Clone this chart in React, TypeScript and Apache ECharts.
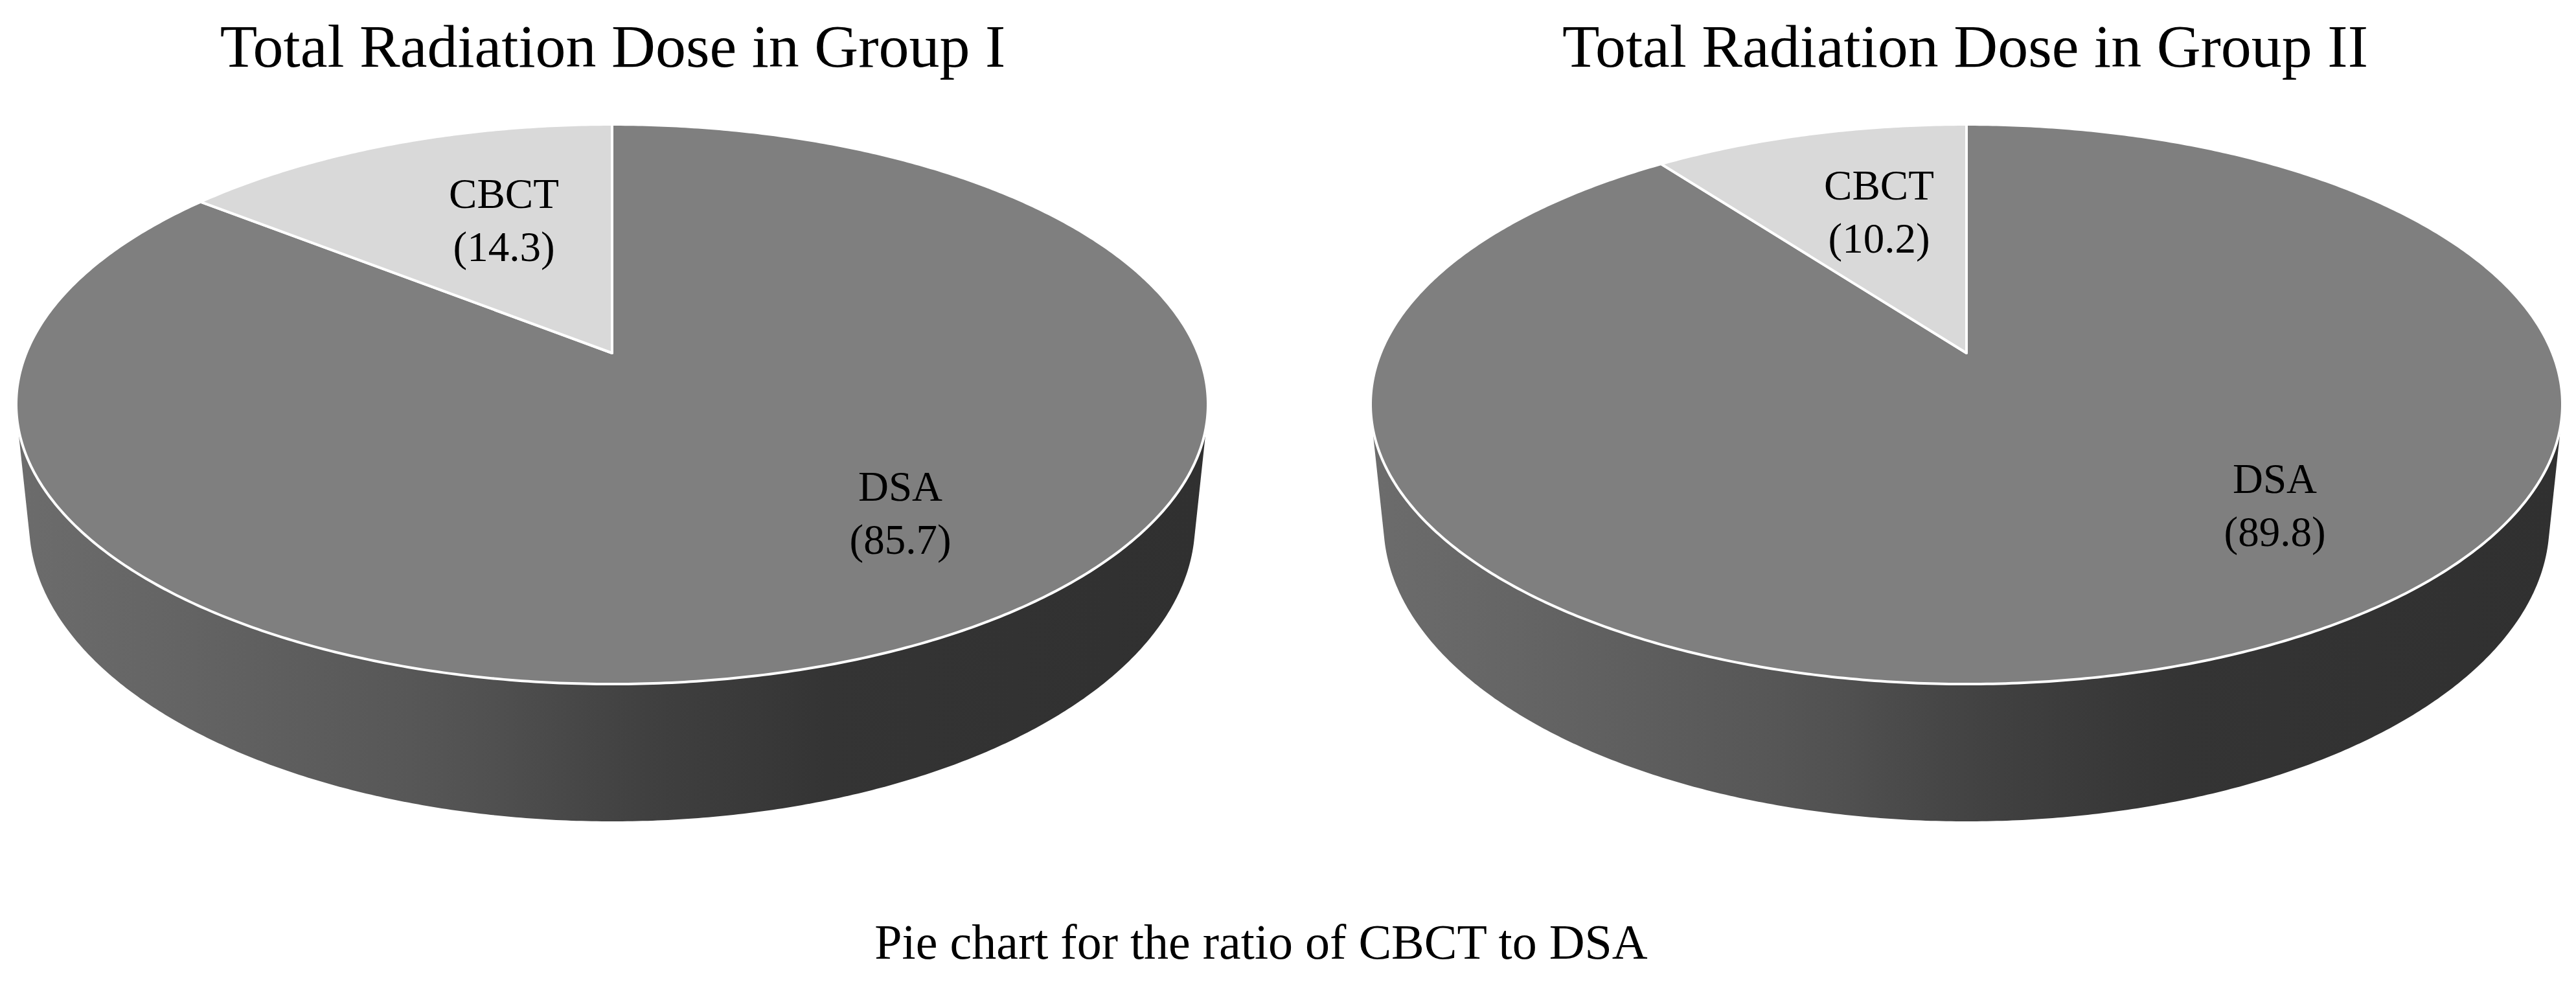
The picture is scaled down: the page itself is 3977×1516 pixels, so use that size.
import React, { useEffect, useRef } from "react";
import * as echarts from "echarts";

const FONT = "Liberation Serif";
const categories = ["DSA", "CBCT"];
const group1Values = [85.7, 14.3];
const group2Values = [89.8, 10.2];
const sliceColors = ["#7f7f7f", "#d9d9d9"];
const chartTitles = ["Total Radiation Dose in Group I", "Total Radiation Dose in Group II"];
const caption = "Pie chart for the ratio of CBCT to DSA";

const WALL_STOPS: [number, string][] = [
  [0, "#6c6c6c"], [0.12, "#656565"], [0.33, "#575757"], [0.40, "#505050"],
  [0.47, "#474747"], [0.53, "#404040"], [0.68, "#343434"], [1, "#303030"],
];

const GEOM = { a: 920, b: 432, cy: 624, tilt: 0.183, apexShift: 79, a2: 900, b2: 460, cy2: 808 };

// perspective projection of a point on the unit disc to the screen
function project(cx: number, X: number, Y: number): [number, number] {
  const { a, b, cy, tilt, apexShift } = GEOM;
  const d = 1 - tilt * Y;
  const A = a * Math.sqrt(1 - tilt * tilt);
  return [cx + (A * X) / d, cy + (b * Y - apexShift) / d];
}

function slicePoints(cx: number, startFrac: number, endFrac: number) {
  const pts: [number, number][] = [project(cx, 0, 0)];
  const n = Math.max(8, Math.ceil((endFrac - startFrac) * 720));
  for (let i = 0; i <= n; i++) {
    const t = (startFrac + ((endFrac - startFrac) * i) / n) * 2 * Math.PI;
    pts.push(project(cx, Math.sin(t), -Math.cos(t)));
  }
  return pts;
}

function wallPoints(cx: number) {
  const { a, b, cy, a2, b2, cy2 } = GEOM;
  const raw: [number, number][] = [];
  for (let i = 0; i < 720; i++) {
    const t = (i / 720) * 2 * Math.PI;
    const p1: [number, number] = [cx + a * Math.cos(t), cy + b * Math.sin(t)];
    const p2: [number, number] = [cx + a2 * Math.cos(t), cy2 + b2 * Math.sin(t)];
    if (p1[1] >= cy) raw.push(p1);
    if (p2[1] >= cy2) raw.push(p2);
  }
  raw.sort((p, q) => p[0] - q[0] || p[1] - q[1]);
  // lower convex hull (screen y grows downward)
  const hull: [number, number][] = [];
  for (const p of raw) {
    while (hull.length >= 2) {
      const o = hull[hull.length - 2];
      const m = hull[hull.length - 1];
      const cross = (m[0] - o[0]) * (p[1] - o[1]) - (m[1] - o[1]) * (p[0] - o[0]);
      if (cross >= 0) hull.pop();
      else break;
    }
    hull.push(p);
  }
  return hull;
}

function pieSeries(cx: number, values: number[]) {
  const total = values.reduce((s, v) => s + v, 0);
  return {
    type: "custom",
    coordinateSystem: "none",
    silent: true,
    data: values.map((v, i) => ({ name: categories[i], value: [v] })),
    renderItem: (params: any, api: any) => {
      const i = params.dataIndex;
      const value = api.value(0);
      let before = 0;
      for (let k = 0; k < i; k++) before += values[k];
      const children: any[] = [];
      if (i === 0) {
        children.push({
          type: "polygon",
          shape: { points: wallPoints(cx) },
          style: {
            fill: new echarts.graphic.LinearGradient(
              cx - GEOM.a, 0, cx + GEOM.a, 0,
              WALL_STOPS.map(([offset, color]) => ({ offset, color })), true
            ),
          },
        });
      }
      children.push({
        type: "polygon",
        shape: { points: slicePoints(cx, before / total, (before + value) / total) },
        style: { fill: sliceColors[i], stroke: "#ffffff", lineWidth: 4, lineJoin: "round" },
      });
      return { type: "group", children };
    },
    z: 2,
  };
}

function labelElements(values: number[], labelPos: [number, number][]) {
  return labelPos.map((p, i) => ({
    type: "text",
    x: p[0],
    y: p[1],
    z: 10,
    style: {
      text: `${categories[i]}\n(${values[i].toFixed(1)})`,
      fontFamily: FONT,
      fontSize: 65,
      lineHeight: 82,
      fill: "#000000",
      align: "center",
      verticalAlign: "middle",
    },
  }));
}

export default function App() {
  const ref = useRef<HTMLDivElement>(null);
  useEffect(() => {
    document.body.style.margin = "0";
    const chart = echarts.init(ref.current!, undefined, { renderer: "svg" });
    const titleStyle = { fontFamily: FONT, fontSize: 94, fontWeight: "normal" as const, color: "#000000" };
    chart.setOption({
      animation: false,
      backgroundColor: "#ffffff",
      title: [
        { text: chartTitles[0], left: 946, top: 24, textAlign: "center", padding: 0, textStyle: titleStyle },
        { text: chartTitles[1], left: 3034, top: 24, textAlign: "center", padding: 0, textStyle: titleStyle },
        { text: caption, left: 1947, top: 1416, textAlign: "center", padding: 0,
          textStyle: { ...titleStyle, fontSize: 76 } },
      ],
      series: [pieSeries(945, group1Values), pieSeries(3036, group2Values)],
      graphic: [
        ...labelElements(group1Values, [[1390, 792], [778, 340]]),
        ...labelElements(group2Values, [[3512, 780], [2901, 327]]),
      ],
    });
    return () => chart.dispose();
  }, []);
  return <div ref={ref} style={{ width: 3977, height: 1516 }} />;
}
